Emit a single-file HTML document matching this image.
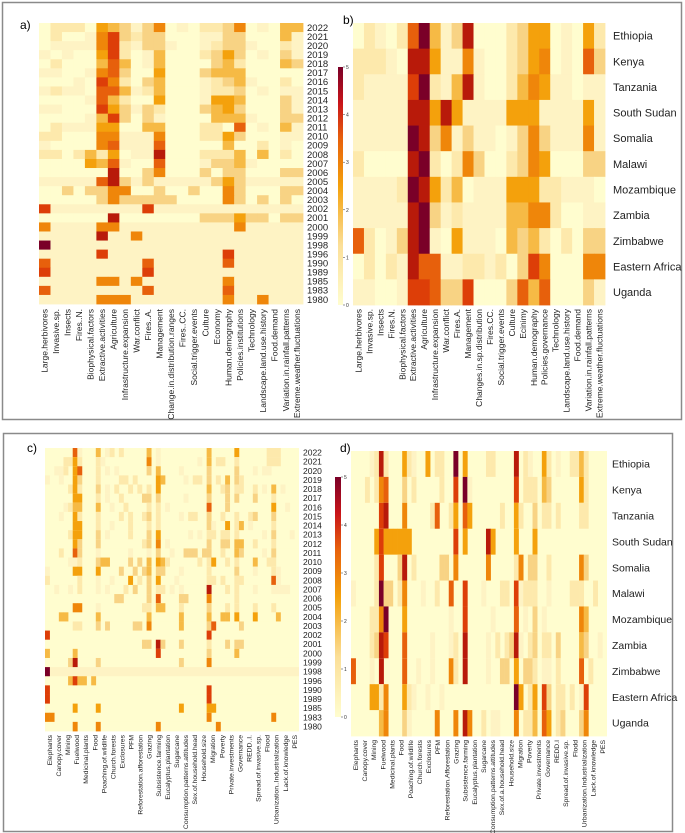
<!DOCTYPE html>
<html><head><meta charset="utf-8"><style>
body{margin:0;background:#fff;}
svg{display:block;font-family:"Liberation Sans",sans-serif;}
</style></head><body>
<svg id="fig" width="685" height="833" viewBox="0 0 685 833">
<defs><linearGradient id="cb" x1="0" y1="0" x2="0" y2="1">
<stop offset="0" stop-color="#7a0028"/><stop offset="0.15" stop-color="#c8141a"/><stop offset="0.3" stop-color="#e7600c"/><stop offset="0.5" stop-color="#f4a10c"/><stop offset="0.75" stop-color="#fbdf98"/><stop offset="1" stop-color="#fffdcf"/></linearGradient></defs>
<rect x="2.5" y="2.5" width="679" height="417" fill="none" stroke="#8a8a8a" stroke-width="1.5"/>
<rect x="3.5" y="433.5" width="669" height="398" fill="none" stroke="#8a8a8a" stroke-width="1.5"/>
<text x="20" y="29" font-size="12">a)</text>
<text x="343" y="24" font-size="12">b)</text>
<text x="27" y="452" font-size="12">c)</text>
<text x="340" y="452" font-size="12">d)</text>
<rect x="338" y="67" width="5" height="238" fill="url(#cb)"/>
<rect x="335" y="477" width="6" height="240" fill="url(#cb)"/>
<g id="layer"></g>
</svg>
<script>
const years = ["2022","2021","2020","2019","2018","2017","2016","2015","2014","2013","2012","2011","2010","2009","2008","2007","2006","2005","2004","2003","2002","2001","2000","1999","1998","1996","1990","1989","1985","1983","1980"];
const countries = ["Ethiopia","Kenya","Tanzania","South Sudan","Somalia","Malawi","Mozambique","Zambia","Zimbabwe","Eastern Africa","Uganda"];
const catsA = ["Large.herbivores","Invasive.sp.","Insects","Fires..N.","Biophysical.factors","Extractive.activities","Agriculture","Infrastructure.expansion","War.conflict","Fires..A.","Management","Change.in.distribution.ranges","Fires..CC.","Social.trigger.events","Culture","Economy","Human.demography","Policies.institutions","Technology","Landscape.land.use.history","Food.demand","Variation.in.rainfall.patterns","Extreme.weather.fluctuations"];
const catsB = ["Large.herbivores","Invasive.sp.","Insects","Fires.N.","Biophysical.factors","Extractive.activities","Agriculture","Infrastructure.expansion","War.conflict","Fires.A.","Management","Changes.in.sp.distribution","Fires.CC.","Social.trigger.events","Culture","Ecinimy","Human.demography","Policies.governance","Technology","Landscape.land.use.history","Food.demand","Variation.in.rainfall.patterns","Extreme.weather.fluctuations"];
const catsC = ["Elephants","Canopy.cover","Mining","Fuelwood","Medicinal.plants","Food","Poaching.of.wildlife","Church.forests","Exclosures","PFM","Reforestation.afforestation","Grazing","Subsistence.farming","Eucalyptus.plantation","Sugarcane","Consumption.patterns.attitudes","Sex.of.household.head","Household.size","Migration","Poverty","Private.investments","Governance","REDD..I.","Spread.of.invasive.sp.","Flood","Urbanization..Industrialization","Lack.of.knowledge","PES"];
const catsD = ["Elephants","Canopy.cover","Mining","Fuelwood","Medicinal.plants","Food","Poaching.of.wildlife","Church.forests","Exclosures","PFM","Reforestation.Afforestation","Grazing","Subsistence.farming","Eucalyptus.plantation","Sugarcane","Consumption.patterns.attitudes","Sex.of.a.household.head","Household.size","Migration","Poverty","Private.investments","Governance","REDD.I","Spread.of.invasive.sp.","Flodd","Urbanization.Industrialization","Lack.of.knowledge","PES"];
// values: char index*0.5 (0..A => 0..5)
const valuesA = [
"02220543136010223601044",
"02001683233000113300041",
"01111682133100123310021",
"10100582014000235301031",
"02000474014000034200043",
"11001673005000344400000",
"00010862034000123410020",
"12110774124000122301011",
"00001742005000155400031",
"11000853132000345300031",
"00001483031000044410033",
"02111550044000220701041",
"22000661116000225300011",
"10000671117000004002010",
"22024250119000222404020",
"00005471007000133410000",
"00000090036000303300033",
"11111793131111135311111",
"00303366003003006300033",
"00000363333300006303030",
"81111111181111111111111",
"00000090000000333533033",
"61111661111111111611111",
"11111911611111111111111",
"A1111111111111111111111",
"11111811111111118111111",
"71111111171111117111111",
"81111111181111111111111",
"11111661611111116111111",
"71111111171111117111111",
"11111666111111116116111"];
const valuesB = [
"021027A4139000235501052",
"22210995116100235601073",
"211118A2149100246511011",
"11111995951111555111151",
"11111A93613110136311161",
"200009A2026300236500033",
"11112A95240111555221110",
"111119A3121111446620011",
"720139A1051110434202033",
"02021977112212038600066",
"11001887338000374700031"];
const valuesC = [
"6:7,7:1,11:4,13:1,14:2,16:2,22:4,24:1,35:4,41:5,48:2,49:2,50:2",
"4:2,5:2,6:5,7:2,11:2,12:1,22:6,24:1,33:1,35:4,37:2,38:2,41:2,48:2,49:2,50:2",
"2:1,3:1,4:2,6:5,7:7,11:2,13:1,15:1,22:3,24:4,29:1,35:3,41:3,45:1,47:1,48:1",
"0:1,3:1,6:5,7:3,11:2,16:2,17:2,19:2,24:5,25:4,30:1,32:2,33:2,35:3,37:2,39:4,41:3,42:2",
"5:2,6:5,7:2,11:3,13:1,15:2,18:2,20:2,22:2,24:5,35:4,38:2,39:3,41:2,42:2,45:2,47:1,49:4,51:1",
"6:5,7:5,11:2,13:1,16:2,21:3,22:3,24:3,30:1,35:3,39:3,41:3,45:3,49:2",
"4:1,5:2,6:4,7:4,11:4,14:1,17:2,22:2,24:2,26:1,35:7,39:3,49:5,52:1",
"3:1,6:5,7:2,11:2,16:2,18:2,21:2,22:3,24:2,29:1,31:2,32:2,35:3,38:2,41:2,44:2,45:3,49:3",
"6:5,7:5,11:2,14:1,18:2,22:2,24:2,35:3,36:1,39:5,41:2,42:4,44:1,49:2",
"5:2,6:5,7:5,11:3,13:1,18:2,22:3,24:5,31:1,33:1,35:2,36:2,38:2,39:2,41:2,47:1,49:3,53:1",
"6:5,7:3,11:3,21:2,22:3,24:6,26:1,35:3,38:3,39:3,41:4,42:4,45:2,49:2",
"3:2,6:7,7:3,11:1,18:1,22:1,24:3,27:1,30:3,31:3,32:3,34:3,35:3,38:2,41:4,42:3,47:1,49:3",
"5:1,6:1,7:2,11:3,12:4,13:4,18:3,20:3,22:4,24:5,25:4,26:2,33:2,35:2,36:5,39:2,41:2,45:4,48:2,49:2",
"0:1,6:5,7:5,11:5,16:3,19:3,21:3,22:4,24:3,25:3,29:1,35:2,41:3,45:1,49:2,50:1",
"0:2,7:2,11:1,14:1,18:5,20:2,22:3,24:5,28:1,35:2,36:2,38:2,41:2,42:2,49:7,50:1",
"2:1,5:1,7:2,11:1,13:1,17:2,19:3,22:3,24:2,25:2,27:1,29:1,35:9,39:2,41:2,45:1,49:1,50:1,51:1,52:1",
"15:3,16:3,22:3,24:7,29:3,30:3,35:6,41:2",
"6:6,7:6,11:1,21:2,22:2,24:4,25:4,29:2,35:3,39:2,41:2,45:2,49:2",
"3:4,4:4,11:4,22:4,29:4,35:4,38:4,39:4,41:5,45:5,50:4",
"6:2,7:2,11:3,13:3,19:3,20:3,22:6,29:4,35:3,36:7,42:3",
"0:8,35:8",
"21:3,22:3,24:9,25:3,29:3,35:2,39:3,41:3,42:3",
"0:4,6:4,24:8,35:3,41:4",
"5:3,6:9,11:3,29:3,35:6",
"0:A",
"5:4,6:8,7:4,8:4,10:4",
"0:8,35:8",
"0:8,35:8",
"6:5,11:5,29:5,35:5,36:5",
"0:6,1:6,35:6,49:6",
"6:6,11:6,24:6,37:6"];
const valuesD = [
"4:1,5:2,6:9,7:2,11:5,12:2,13:1,16:5,18:2,19:2,22:A,24:5,29:2,30:2,35:9,37:2,38:1,41:5,42:2,44:1,47:2,48:2,49:4,50:2",
"3:2,5:2,6:6,7:7,11:3,13:2,19:2,22:8,24:A,25:1,35:8,37:2,38:2,39:2,41:4,42:3,49:5,50:2",
"6:8,7:9,11:6,17:2,18:7,21:2,22:5,24:7,25:5,32:2,35:5,36:2,39:3,41:2,42:2,44:2,49:2,50:2",
"5:5,6:8,7:5,8:5,9:5,10:5,11:5,12:5,22:8,24:5,29:9,30:5,35:5,39:5",
"5:2,6:8,10:3,11:9,13:2,19:3,20:3,22:6,29:6,35:2,36:6,38:3,39:3,42:2,49:6,50:3",
"0:1,5:2,6:A,7:3,8:3,10:2,11:6,15:1,18:2,21:7,24:8,28:1,32:2,33:2,35:8,36:1,37:2,38:2,39:2,42:1,47:2,48:2,49:2,52:2",
"4:2,5:2,6:6,7:A,11:5,21:1,24:8,30:1,35:7,37:1,39:3,41:1,49:6,50:4",
"4:2,5:3,6:9,7:8,11:7,17:1,21:1,22:2,24:9,29:1,31:2,33:2,34:3,35:9,36:1,38:2,39:3,41:2,42:2,44:3,49:4,50:3,53:1",
"0:7,4:1,6:9,11:7,14:1,17:1,21:6,22:2,24:9,29:1,32:3,33:3,35:5,37:3,38:3,39:2,41:1,42:1,44:2,49:7,51:2",
"4:5,5:5,6:2,7:6,11:5,12:2,13:1,16:1,19:1,35:A,36:5,38:2,39:5,41:8,42:3,44:2,45:2,47:2,49:1,50:8",
"6:4,7:6,11:3,12:1,18:6,22:6,24:9,25:6,28:2,30:1,31:1,35:6,37:2,38:2,39:4,41:7,42:5,44:2,45:3,49:3,50:6"];
const tickLabels = ["5","4","3","2","1","0"];

const NS="http://www.w3.org/2000/svg";
const layer=document.getElementById('layer');
const stops=[[0,"#fffdcf"],[0.5,"#fef3c4"],[1,"#fde9ac"],[1.5,"#f8d384"],[2,"#f6ba45"],[2.5,"#f4a10c"],[3,"#ef860a"],[3.5,"#e7600c"],[4,"#dd3e08"],[4.5,"#b81a0a"],[5,"#7a0028"]];
function color(v){for(const s of stops){if(v<=s[0]+1e-9)return s[1];}return stops[stops.length-1][1];}
function lv(ch){return "0123456789A".indexOf(ch)*0.5;}
function mk(tag,attrs,parent){const e=document.createElementNS(NS,tag);for(const k in attrs)e.setAttribute(k,attrs[k]);(parent||layer).appendChild(e);return e;}
function gridDense(rows,x0,y0,w,h,ncol,nm){
  const cw=w/ncol,rh=h/rows.length;
  rows.forEach((r,i)=>{for(let j=0;j<ncol;j++){const v=lv(r[j]||"0");
    const e=mk('rect',{x:(x0+j*cw).toFixed(2),y:(y0+i*rh).toFixed(2),width:(cw+0.4).toFixed(2),height:(rh+0.4).toFixed(2),fill:color(v)});
    
    }});
}
function gridSparse(rows,x0,y0,w,h,ncol,nm,bgFn){
  const cw=w/ncol,rh=h/rows.length;
  rows.forEach((r,i)=>{
    const bgv=bgFn(i);
    const b=mk('rect',{x:x0,y:(y0+i*rh).toFixed(2),width:w,height:(rh+0.4).toFixed(2),fill:color(bgv)});
    
    
    r.split(',').forEach(p=>{const q=p.split(':');const j=+q[0],v=lv(q[1]);
      const e=mk('rect',{x:(x0+j*cw).toFixed(2),y:(y0+i*rh).toFixed(2),width:(cw+0.3).toFixed(2),height:(rh+0.4).toFixed(2),fill:color(v)});
      
      });
  });
}
function rowLabels(labels,x,y0,h,fs,nm){const rh=h/labels.length;labels.forEach((t,i)=>{
  const e=mk('text',{x:x,y:(y0+(i+0.5)*rh+fs*0.35).toFixed(1),'font-size':fs,fill:'#222'});e.textContent=t;
  
  });}
function colLabels(labels,x0,w,y,fs,nm){const cw=w/labels.length;labels.forEach((t,i)=>{
  const cx=x0+(i+0.5)*cw+fs*0.35;
  const e=mk('text',{x:cx.toFixed(1),y:y,'font-size':fs,fill:'#222','text-anchor':'end',transform:`rotate(-90 ${cx.toFixed(1)} ${y})`});e.textContent=t;
  
  });}
function cbTicks(x,y0,h,nm){tickLabels.forEach((t,i)=>{const y=y0+i*h/(tickLabels.length-1);
  const l=mk('line',{x1:x,x2:x+2,y1:y,y2:y,stroke:'#333','stroke-width':0.5});
  
  
  const e=mk('text',{x:x+3,y:y+2,'font-size':5,fill:'#333'});e.textContent=t;
  
  });}

// Panel a
gridDense(valuesA,39,23,264,281,23,'heatmap-a');
rowLabels(years,307,23,281,9.5,'year-label-a');
colLabels(catsA,39,264,309,8.5,'category-label-a');
// Panel b
gridDense(valuesB,353,23,252,282,23,'heatmap-b');
rowLabels(countries,613,23,282,11,'country-label-b');
colLabels(catsB,353,252,309,8.5,'category-label-b');
cbTicks(343,67,238,'colorbar-ab');
// Panel c
gridSparse(valuesC,45,448,254,283,55,'heatmap-c',i=>years[i]==="1998"?0.5:0);
rowLabels(years,303,448,283,8.5,'year-label-c');
colLabels(catsC,45,254,735,6.8,'category-label-c');
// Panel d
gridSparse(valuesD,351,451,256,285,55,'heatmap-d',i=>0);
rowLabels(countries,612,451,285,10.5,'country-label-d');
colLabels(catsD,351,256,740,6.8,'category-label-d');
cbTicks(341,477,240,'colorbar-cd');
</script>
</body></html>
